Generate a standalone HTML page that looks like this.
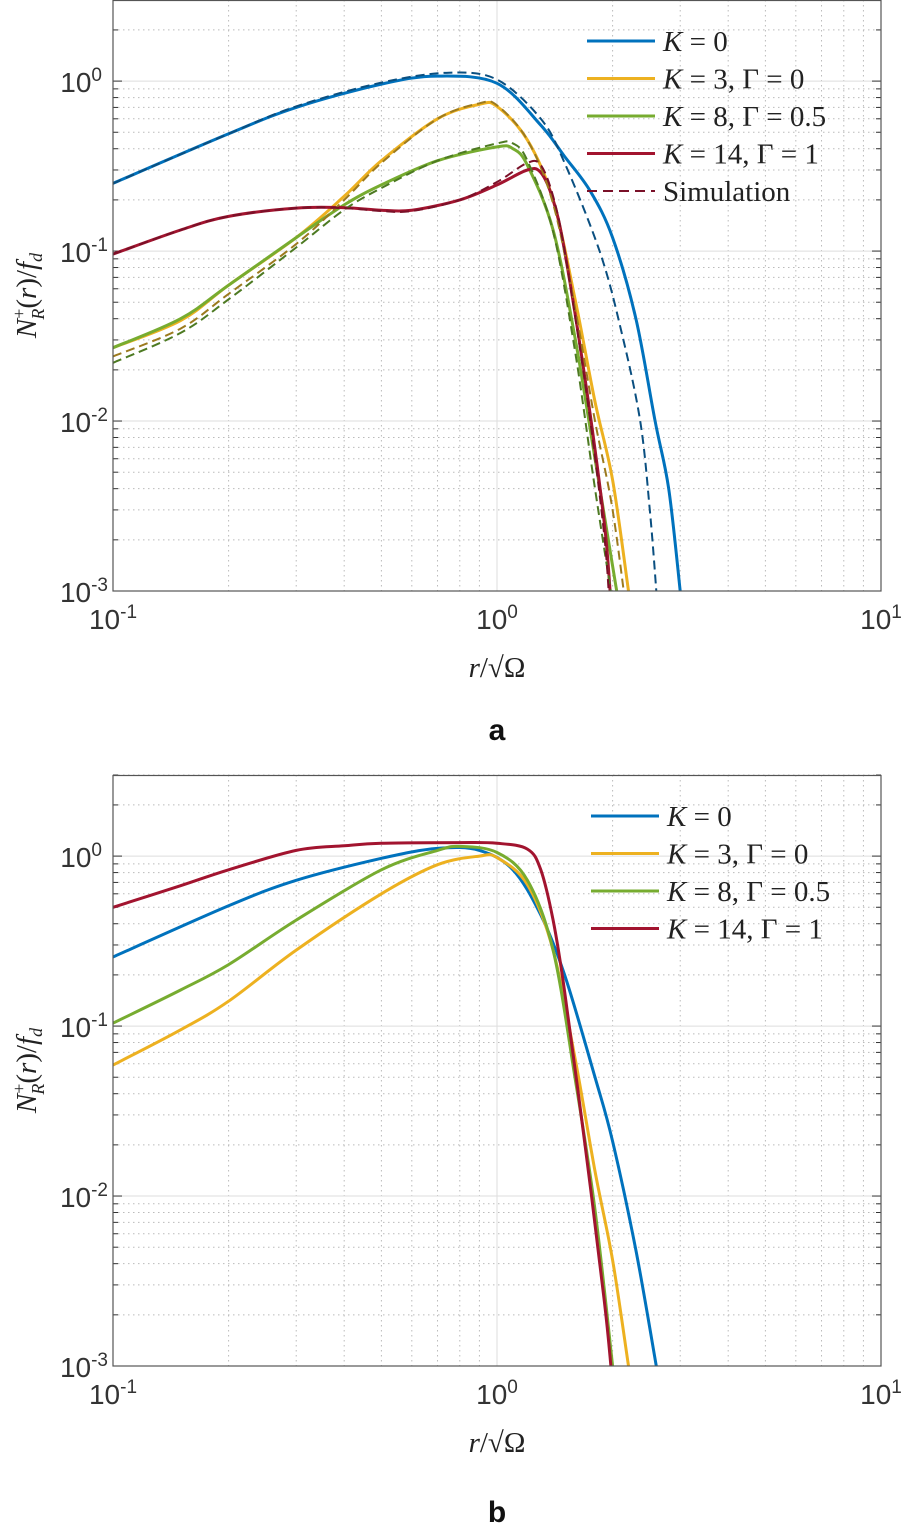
<!DOCTYPE html>
<html><head><meta charset="utf-8"><style>
body{margin:0;background:#fff}
svg{display:block}
.tk{font-family:"Liberation Sans",sans-serif;font-size:28px;fill:#333}
.lg{font-family:"Liberation Serif",serif;font-size:29px;fill:#222}
</style></head><body>
<svg id="c" width="902" height="1527" xmlns="http://www.w3.org/2000/svg"></svg>
<script>
const NS="http://www.w3.org/2000/svg";
const xTickLabels=["-1","0","1"];
const yTickLabels=["0","-1","-2","-3"];
// panel a series (r, value)
const aBlueR=[0.1,0.2,0.3,0.5,0.7,1.0,1.3,1.5,1.75,2.0,2.3,2.58,2.8,3.0];
const aBlueV=[0.25,0.49,0.70,0.96,1.07,0.97,0.55,0.36,0.225,0.12,0.04,0.01,0.004,0.001];
const aBlueSimR=[0.1,0.2,0.3,0.5,0.75,1.0,1.3,1.5,1.85,2.1,2.36,2.5,2.6];
const aBlueSimV=[0.25,0.49,0.71,0.98,1.12,1.02,0.6,0.33,0.1,0.035,0.01,0.003,0.001];
const aYelR=[0.1,0.15,0.2,0.3,0.4,0.5,0.7,0.9,1.0,1.2,1.4,1.6,1.8,2.0,2.2];
const aYelV=[0.027,0.039,0.063,0.12,0.21,0.34,0.6,0.73,0.71,0.45,0.2,0.051,0.013,0.0045,0.001];
const aYelSimV=[0.024,0.035,0.056,0.11,0.2,0.33,0.6,0.74,0.72,0.45,0.19,0.045,0.01,0.003,0.0006];
const aGrnR=[0.1,0.15,0.2,0.3,0.4,0.5,0.7,1.0,1.1,1.2,1.4,1.6,1.8,2.05];
const aGrnV=[0.027,0.04,0.063,0.12,0.187,0.245,0.34,0.41,0.40,0.32,0.133,0.03,0.006,0.001];
const aGrnSimV=[0.022,0.033,0.052,0.105,0.175,0.235,0.34,0.43,0.43,0.34,0.13,0.025,0.004,0.0006];
const aRedR=[0.1,0.15,0.2,0.3,0.4,0.5,0.6,0.8,1.0,1.2,1.3,1.4,1.5,1.7,1.9,1.97];
const aRedV=[0.096,0.133,0.16,0.179,0.18,0.174,0.174,0.2,0.245,0.30,0.29,0.2,0.1,0.017,0.0026,0.001];
const aRedSimV=[0.096,0.133,0.16,0.179,0.179,0.172,0.172,0.2,0.255,0.33,0.32,0.21,0.1,0.016,0.0022,0.0007];
// panel b series
const bBlueR=[0.1,0.2,0.3,0.5,0.7,0.9,1.1,1.3,1.5,1.8,2.0,2.3,2.6];
const bBlueV=[0.255,0.51,0.72,0.97,1.11,1.08,0.83,0.45,0.2,0.05,0.021,0.0048,0.001];
const bYelR=[0.1,0.15,0.2,0.3,0.5,0.7,0.9,1.0,1.2,1.4,1.6,1.8,2.0,2.2];
const bYelV=[0.059,0.095,0.14,0.28,0.6,0.89,1.0,0.98,0.68,0.28,0.063,0.014,0.0042,0.001];
const bGrnR=[0.1,0.15,0.2,0.3,0.5,0.7,0.8,1.0,1.2,1.4,1.6,1.8,2.0];
const bGrnV=[0.104,0.163,0.23,0.42,0.83,1.08,1.14,1.05,0.72,0.28,0.048,0.0083,0.001];
const bRedR=[0.1,0.15,0.2,0.3,0.4,0.5,0.8,1.0,1.2,1.3,1.4,1.5,1.7,1.9,1.98];
const bRedV=[0.5,0.67,0.83,1.08,1.15,1.19,1.2,1.19,1.1,0.83,0.42,0.16,0.019,0.0025,0.001];

const svg=document.getElementById('c');
function el(tag,attrs,parent){const e=document.createElementNS(NS,tag);for(const k in attrs)e.setAttribute(k,attrs[k]);(parent||svg).appendChild(e);return e;}
function smooth(P){
  let d='M'+P[0][0].toFixed(1)+','+P[0][1].toFixed(1);
  for(let i=0;i<P.length-1;i++){
    const p0=P[i-1]||P[i],p1=P[i],p2=P[i+1],p3=P[i+2]||P[i+1];
    const c1=[p1[0]+(p2[0]-p0[0])/6,p1[1]+(p2[1]-p0[1])/6];
    const c2=[p2[0]-(p3[0]-p1[0])/6,p2[1]-(p3[1]-p1[1])/6];
    d+=' C'+c1.map(v=>v.toFixed(1))+' '+c2.map(v=>v.toFixed(1))+' '+p2.map(v=>v.toFixed(1));
  }
  return d;
}
const L=113,R=881,XMIN=-1,XMAX=1,YMIN=-3,YMAX=Math.log10(3);
function panel(top,bottom,series,legend,legTop,legX,name,letter,letterY){
  const g=el('g',{});
  
  
  const xs=v=>L+(Math.log10(v)-XMIN)/(XMAX-XMIN)*(R-L);
  const ys=v=>bottom-(Math.log10(v)-YMIN)/(YMAX-YMIN)*(bottom-top);
  for(let d=-1;d<1;d++)for(let m=2;m<10;m++){const x=xs(m*Math.pow(10,d));
    el('line',{x1:x,x2:x,y1:top,y2:bottom,stroke:'#bbb','stroke-width':1,'stroke-dasharray':'1.5,3.5'},g);}
  for(let d=-3;d<1;d++)for(let m=2;m<10;m++){const v=m*Math.pow(10,d);if(Math.log10(v)>YMAX)continue;const y=ys(v);
    el('line',{x1:L,x2:R,y1:y,y2:y,stroke:'#bbb','stroke-width':1,'stroke-dasharray':'1.5,3.5'},g);
    el('line',{x1:L,x2:L+5,y1:y,y2:y,stroke:'#333','stroke-width':1},g);el('line',{x1:R-5,x2:R,y1:y,y2:y,stroke:'#333','stroke-width':1},g);}
  for(let i=0;i<3;i++){const x=xs(Math.pow(10,i-1));
    el('line',{x1:x,x2:x,y1:top,y2:bottom,stroke:'#ddd','stroke-width':1},g);
    const t=el('text',{x:x,y:bottom+38,'text-anchor':'middle',class:'tk'},g);
    
    t.innerHTML='10<tspan dy="-11" font-size="19">'+xTickLabels[i]+'</tspan>';}
  for(let i=0;i<4;i++){const y=ys(Math.pow(10,-i));
    el('line',{x1:L,x2:R,y1:y,y2:y,stroke:'#ddd','stroke-width':1},g);
    el('line',{x1:L,x2:L+9,y1:y,y2:y,stroke:'#333','stroke-width':1},g);el('line',{x1:R-9,x2:R,y1:y,y2:y,stroke:'#333','stroke-width':1},g);
    const t=el('text',{x:i==0?102:108,y:y+11,'text-anchor':'end',class:'tk'},g);
    
    t.innerHTML='10<tspan dy="-11" font-size="19">'+yTickLabels[i]+'</tspan>';}
  const clip='clip'+name;
  const cp=el('clipPath',{id:clip},g);el('rect',{x:L,y:top,width:R-L,height:bottom-top},cp);
  series.forEach(s=>{
    const P=s.r.map((r,i)=>[xs(r),ys(s.v[i])]);
    const p=el('path',{d:smooth(P),fill:'none',stroke:s.c,'stroke-width':s.dash?2:3,'stroke-linejoin':'round','clip-path':'url(#'+clip+')'},g);
    if(s.dash)p.setAttribute('stroke-dasharray','9,5');
    
  });
  const box=el('rect',{x:L,y:top+0.5,width:R-L,height:bottom-top-0.5,fill:'none',stroke:'#555','stroke-width':1.2},g);
  
  legend.forEach((e,i)=>{const y=legTop+i*37.5;
    const lg=el('g',{},g);
    const ln=el('line',{x1:legX,x2:legX+68,y1:y,y2:y,stroke:e.c,'stroke-width':3},lg);
    if(e.dash){ln.setAttribute('stroke-dasharray','10,6');ln.setAttribute('stroke-width',2);}
    const t=el('text',{x:legX+76,y:y+10,class:'lg'},lg);t.innerHTML=e.t;});
  const xl=el('text',{x:497,y:bottom+86,'text-anchor':'middle',class:'lg','font-size':'28'},g);
  
  xl.innerHTML='<tspan font-style="italic">r</tspan>/√Ω';
  const cy=(top+bottom)/2;
  const yl=el('text',{x:0,y:0,transform:'translate(36,'+cy+') rotate(-90)','text-anchor':'middle',class:'lg','font-size':'28'},g);
  
  yl.innerHTML='<tspan font-style="italic">N</tspan><tspan font-size="18" dy="-11">+</tspan><tspan font-size="18" dx="-11" dy="19" font-style="italic">R</tspan><tspan dy="-8">(</tspan><tspan font-style="italic">r</tspan>)/<tspan font-style="italic">f</tspan><tspan font-size="18" dy="6" font-style="italic">d</tspan>';
  const pl=el('text',{x:497,y:letterY,'text-anchor':'middle','font-family':'Liberation Sans,sans-serif','font-weight':'bold','font-size':'30',fill:'#111'},g);
  
  pl.textContent=letter;
}
const BLUE='#0072BD',YEL='#EDB120',GRN='#77AC30',RED='#A2142F';
const lt=['<tspan font-style="italic">K</tspan> =  0','<tspan font-style="italic">K</tspan> =  3, Γ = 0','<tspan font-style="italic">K</tspan> =  8, Γ = 0.5','<tspan font-style="italic">K</tspan> = 14, Γ = 1'];
panel(0,591,[
 {r:aBlueR,v:aBlueV,c:BLUE,n:'line-k0'},
 {r:aYelR,v:aYelV,c:YEL,n:'line-k3'},
 {r:aGrnR,v:aGrnV,c:GRN,n:'line-k8'},
 {r:aRedR,v:aRedV,c:RED,n:'line-k14'},
 {r:aBlueSimR,v:aBlueSimV,c:'#0a4f80',dash:1,n:'sim-k0'},
 {r:aYelR,v:aYelSimV,c:'#9c7a1e',dash:1,n:'sim-k3'},
 {r:aGrnR,v:aGrnSimV,c:'#4d7a22',dash:1,n:'sim-k8'},
 {r:aRedR,v:aRedSimV,c:'#7a1028',dash:1,n:'sim-k14'}],
 [{c:BLUE,t:lt[0]},{c:YEL,t:lt[1]},{c:GRN,t:lt[2]},{c:RED,t:lt[3]},{c:'#7a1028',dash:1,t:'Simulation'}],41,587,'panel-a','a',740);
panel(775,1366,[
 {r:bBlueR,v:bBlueV,c:BLUE,n:'line-k0'},
 {r:bYelR,v:bYelV,c:YEL,n:'line-k3'},
 {r:bGrnR,v:bGrnV,c:GRN,n:'line-k8'},
 {r:bRedR,v:bRedV,c:RED,n:'line-k14'}],
 [{c:BLUE,t:lt[0]},{c:YEL,t:lt[1]},{c:GRN,t:lt[2]},{c:RED,t:lt[3]}],816,591,'panel-b','b',1522);
</script>
</body></html>
